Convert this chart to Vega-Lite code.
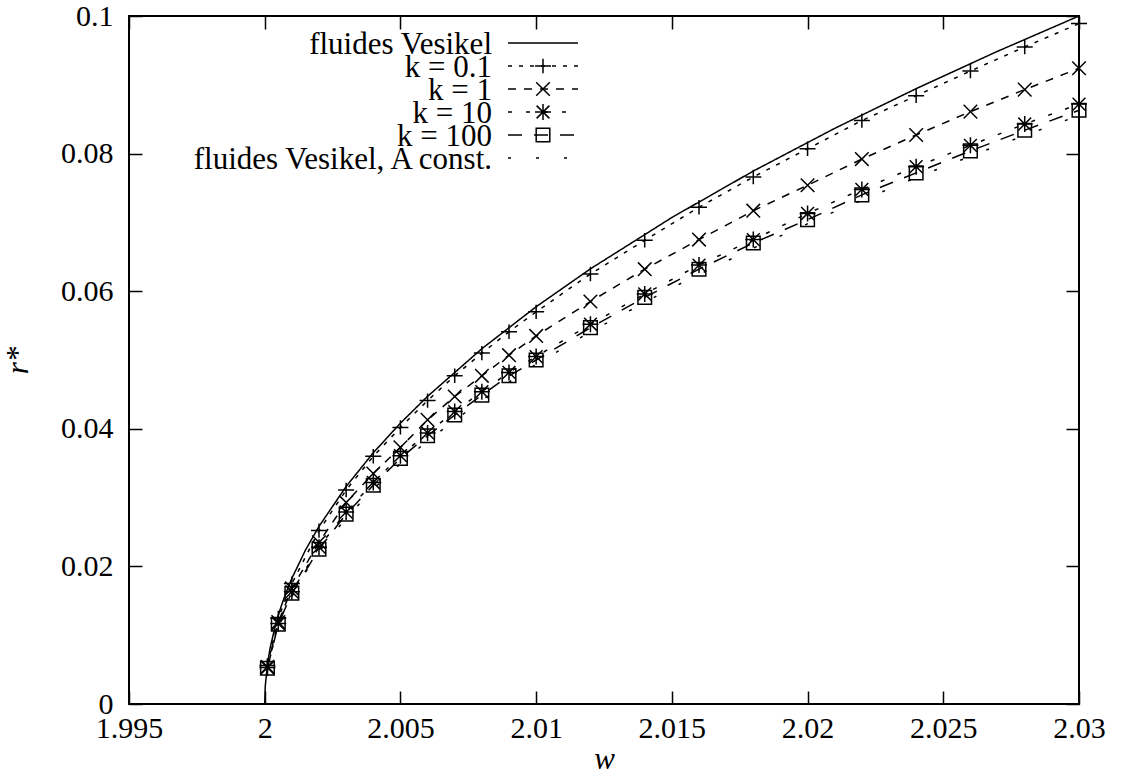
{
  "$schema": "https://vega.github.io/schema/vega-lite/v6.json",
  "width": 950,
  "height": 688,
  "autosize": {"type": "none"},
  "padding": {"left": 129, "top": 16, "right": 43, "bottom": 76},
  "background": "white",
  "config": {
    "view": {"stroke": "black", "strokeWidth": 2},
    "font": "Liberation Serif",
    "axis": {
      "grid": false,
      "domain": false,
      "ticks": true,
      "tickColor": "black",
      "tickWidth": 1.5,
      "tickSize": 13,
      "offset": -13,
      "labelFont": "Liberation Serif",
      "labelFontSize": 30,
      "labelColor": "black",
      "labelFlush": false,
      "labelOverlap": false,
      "labelBound": false,
      "titleFont": "Liberation Serif",
      "titleFontSize": 31,
      "titleFontStyle": "italic",
      "titleFontWeight": "normal",
      "titleColor": "black"
    },
    "legend": {
      "orient": "none",
      "title": null,
      "padding": 0,
      "rowPadding": 1,
      "labelFontSize": 10,
      "labelLimit": 0,
      "symbolSize": 256,
      "symbolOffset": 26,
      "symbolStrokeColor": "black",
      "symbolStrokeWidth": 1.5
    }
  },
  "data": {
    "values": [
      {"s": "fluides Vesikel", "w": 2.0, "r": 0},
      {"s": "fluides Vesikel", "w": 2.00002, "r": 0.00258},
      {"s": "fluides Vesikel", "w": 2.0001, "r": 0.00577},
      {"s": "fluides Vesikel", "w": 2.0002, "r": 0.00816},
      {"s": "fluides Vesikel", "w": 2.0004, "r": 0.01155},
      {"s": "fluides Vesikel", "w": 2.0006, "r": 0.01414},
      {"s": "fluides Vesikel", "w": 2.0008, "r": 0.01633},
      {"s": "fluides Vesikel", "w": 2.001, "r": 0.01826},
      {"s": "fluides Vesikel", "w": 2.0015, "r": 0.02236},
      {"s": "fluides Vesikel", "w": 2.002, "r": 0.02582},
      {"s": "fluides Vesikel", "w": 2.003, "r": 0.03162},
      {"s": "fluides Vesikel", "w": 2.004, "r": 0.03651},
      {"s": "fluides Vesikel", "w": 2.005, "r": 0.04082},
      {"s": "fluides Vesikel", "w": 2.006, "r": 0.04472},
      {"s": "fluides Vesikel", "w": 2.008, "r": 0.05164},
      {"s": "fluides Vesikel", "w": 2.01, "r": 0.05774},
      {"s": "fluides Vesikel", "w": 2.012, "r": 0.06325},
      {"s": "fluides Vesikel", "w": 2.015, "r": 0.07071},
      {"s": "fluides Vesikel", "w": 2.018, "r": 0.07746},
      {"s": "fluides Vesikel", "w": 2.021, "r": 0.08367},
      {"s": "fluides Vesikel", "w": 2.024, "r": 0.08944},
      {"s": "fluides Vesikel", "w": 2.027, "r": 0.09487},
      {"s": "fluides Vesikel", "w": 2.03, "r": 0.1},

      {"s": "k = 0.1", "w": 2.0001, "r": 0.0056},
      {"s": "k = 0.1", "w": 2.0005, "r": 0.0125},
      {"s": "k = 0.1", "w": 2.001, "r": 0.0175},
      {"s": "k = 0.1", "w": 2.002, "r": 0.0252},
      {"s": "k = 0.1", "w": 2.003, "r": 0.0311},
      {"s": "k = 0.1", "w": 2.004, "r": 0.036},
      {"s": "k = 0.1", "w": 2.005, "r": 0.0402},
      {"s": "k = 0.1", "w": 2.006, "r": 0.0441},
      {"s": "k = 0.1", "w": 2.007, "r": 0.0477},
      {"s": "k = 0.1", "w": 2.008, "r": 0.051},
      {"s": "k = 0.1", "w": 2.009, "r": 0.0541},
      {"s": "k = 0.1", "w": 2.01, "r": 0.057},
      {"s": "k = 0.1", "w": 2.012, "r": 0.0625},
      {"s": "k = 0.1", "w": 2.014, "r": 0.0674},
      {"s": "k = 0.1", "w": 2.016, "r": 0.0722},
      {"s": "k = 0.1", "w": 2.018, "r": 0.0766},
      {"s": "k = 0.1", "w": 2.02, "r": 0.0807},
      {"s": "k = 0.1", "w": 2.022, "r": 0.0848},
      {"s": "k = 0.1", "w": 2.024, "r": 0.0884},
      {"s": "k = 0.1", "w": 2.026, "r": 0.092},
      {"s": "k = 0.1", "w": 2.028, "r": 0.0955},
      {"s": "k = 0.1", "w": 2.03, "r": 0.0989},

      {"s": "k = 1", "w": 2.0001, "r": 0.0054},
      {"s": "k = 1", "w": 2.0005, "r": 0.0119},
      {"s": "k = 1", "w": 2.001, "r": 0.0168},
      {"s": "k = 1", "w": 2.002, "r": 0.0235},
      {"s": "k = 1", "w": 2.003, "r": 0.0293},
      {"s": "k = 1", "w": 2.004, "r": 0.0335},
      {"s": "k = 1", "w": 2.005, "r": 0.0373},
      {"s": "k = 1", "w": 2.006, "r": 0.0413},
      {"s": "k = 1", "w": 2.007, "r": 0.0447},
      {"s": "k = 1", "w": 2.008, "r": 0.0477},
      {"s": "k = 1", "w": 2.009, "r": 0.0507},
      {"s": "k = 1", "w": 2.01, "r": 0.0535},
      {"s": "k = 1", "w": 2.012, "r": 0.0585},
      {"s": "k = 1", "w": 2.014, "r": 0.0632},
      {"s": "k = 1", "w": 2.016, "r": 0.0675},
      {"s": "k = 1", "w": 2.018, "r": 0.0717},
      {"s": "k = 1", "w": 2.02, "r": 0.0754},
      {"s": "k = 1", "w": 2.022, "r": 0.0792},
      {"s": "k = 1", "w": 2.024, "r": 0.0827},
      {"s": "k = 1", "w": 2.026, "r": 0.0861},
      {"s": "k = 1", "w": 2.028, "r": 0.0893},
      {"s": "k = 1", "w": 2.03, "r": 0.0924},

      {"s": "k = 10", "w": 2.0001, "r": 0.0053},
      {"s": "k = 10", "w": 2.0005, "r": 0.0117},
      {"s": "k = 10", "w": 2.001, "r": 0.0163},
      {"s": "k = 10", "w": 2.002, "r": 0.0228},
      {"s": "k = 10", "w": 2.003, "r": 0.0279},
      {"s": "k = 10", "w": 2.004, "r": 0.0322},
      {"s": "k = 10", "w": 2.005, "r": 0.0361},
      {"s": "k = 10", "w": 2.006, "r": 0.0394},
      {"s": "k = 10", "w": 2.007, "r": 0.0425},
      {"s": "k = 10", "w": 2.008, "r": 0.0454},
      {"s": "k = 10", "w": 2.009, "r": 0.0482},
      {"s": "k = 10", "w": 2.01, "r": 0.0505},
      {"s": "k = 10", "w": 2.012, "r": 0.0552},
      {"s": "k = 10", "w": 2.014, "r": 0.0596},
      {"s": "k = 10", "w": 2.016, "r": 0.0638},
      {"s": "k = 10", "w": 2.018, "r": 0.0675},
      {"s": "k = 10", "w": 2.02, "r": 0.0713},
      {"s": "k = 10", "w": 2.022, "r": 0.0748},
      {"s": "k = 10", "w": 2.024, "r": 0.0781},
      {"s": "k = 10", "w": 2.026, "r": 0.0812},
      {"s": "k = 10", "w": 2.028, "r": 0.0843},
      {"s": "k = 10", "w": 2.03, "r": 0.0872},

      {"s": "k = 100", "w": 2.0001, "r": 0.0052},
      {"s": "k = 100", "w": 2.0005, "r": 0.0116},
      {"s": "k = 100", "w": 2.001, "r": 0.0161},
      {"s": "k = 100", "w": 2.002, "r": 0.0225},
      {"s": "k = 100", "w": 2.003, "r": 0.0276},
      {"s": "k = 100", "w": 2.004, "r": 0.0318},
      {"s": "k = 100", "w": 2.005, "r": 0.0357},
      {"s": "k = 100", "w": 2.006, "r": 0.039},
      {"s": "k = 100", "w": 2.007, "r": 0.042},
      {"s": "k = 100", "w": 2.008, "r": 0.0449},
      {"s": "k = 100", "w": 2.009, "r": 0.0477},
      {"s": "k = 100", "w": 2.01, "r": 0.05},
      {"s": "k = 100", "w": 2.012, "r": 0.0547},
      {"s": "k = 100", "w": 2.014, "r": 0.0591},
      {"s": "k = 100", "w": 2.016, "r": 0.0632},
      {"s": "k = 100", "w": 2.018, "r": 0.067},
      {"s": "k = 100", "w": 2.02, "r": 0.0704},
      {"s": "k = 100", "w": 2.022, "r": 0.074},
      {"s": "k = 100", "w": 2.024, "r": 0.0772},
      {"s": "k = 100", "w": 2.026, "r": 0.0804},
      {"s": "k = 100", "w": 2.028, "r": 0.0834},
      {"s": "k = 100", "w": 2.03, "r": 0.0863},

      {"s": "fluides Vesikel, A const.", "w": 2.0, "r": 0},
      {"s": "fluides Vesikel, A const.", "w": 2.00002, "r": 0.00221},
      {"s": "fluides Vesikel, A const.", "w": 2.0001, "r": 0.00494},
      {"s": "fluides Vesikel, A const.", "w": 2.0002, "r": 0.00698},
      {"s": "fluides Vesikel, A const.", "w": 2.0004, "r": 0.00988},
      {"s": "fluides Vesikel, A const.", "w": 2.0006, "r": 0.0121},
      {"s": "fluides Vesikel, A const.", "w": 2.0008, "r": 0.01397},
      {"s": "fluides Vesikel, A const.", "w": 2.001, "r": 0.01562},
      {"s": "fluides Vesikel, A const.", "w": 2.0015, "r": 0.01913},
      {"s": "fluides Vesikel, A const.", "w": 2.002, "r": 0.02209},
      {"s": "fluides Vesikel, A const.", "w": 2.003, "r": 0.02705},
      {"s": "fluides Vesikel, A const.", "w": 2.004, "r": 0.03124},
      {"s": "fluides Vesikel, A const.", "w": 2.005, "r": 0.03492},
      {"s": "fluides Vesikel, A const.", "w": 2.006, "r": 0.03826},
      {"s": "fluides Vesikel, A const.", "w": 2.008, "r": 0.04418},
      {"s": "fluides Vesikel, A const.", "w": 2.01, "r": 0.04939},
      {"s": "fluides Vesikel, A const.", "w": 2.012, "r": 0.0541},
      {"s": "fluides Vesikel, A const.", "w": 2.015, "r": 0.06049},
      {"s": "fluides Vesikel, A const.", "w": 2.018, "r": 0.06626},
      {"s": "fluides Vesikel, A const.", "w": 2.021, "r": 0.07157},
      {"s": "fluides Vesikel, A const.", "w": 2.024, "r": 0.07651},
      {"s": "fluides Vesikel, A const.", "w": 2.027, "r": 0.08116},
      {"s": "fluides Vesikel, A const.", "w": 2.03, "r": 0.08555}
    ]
  },
  "layer": [
    {
      "mark": {"type": "line", "stroke": "black", "strokeWidth": 1.5},
      "encoding": {
        "x": {
          "field": "w", "type": "quantitative",
          "scale": {"domain": [1.995, 2.03], "nice": false, "zero": false},
          "axis": {"orient": "bottom", "title": "w", "values": [1.995, 2.0, 2.005, 2.01, 2.015, 2.02, 2.025, 2.03], "format": "~g", "labelPadding": 9, "titlePadding": 1}
        },
        "y": {
          "field": "r", "type": "quantitative",
          "scale": {"domain": [0, 0.1], "nice": false, "zero": false},
          "axis": {"orient": "left", "title": "r*", "values": [0, 0.02, 0.04, 0.06, 0.08, 0.1], "format": "~g", "labelPadding": 16, "titlePadding": 26}
        },
        "strokeDash": {
          "field": "s", "type": "nominal",
          "scale": {
            "domain": ["fluides Vesikel", "k = 0.1", "k = 1", "k = 10", "k = 100", "fluides Vesikel, A const."],
            "range": [[1, 0], [4, 7], [8, 8], [4, 14], [14, 12], [3, 25]]
          },
          "legend": {
            "legendX": 379, "legendY": 18,
            "labelExpr": "''",
            "symbolType": "M0,-1M0,1M-4.375,0H4.375"
          }
        },
        "opacity": {
          "field": "s", "type": "ordinal",
          "scale": {
            "domain": ["fluides Vesikel, A const.", "k = 100", "k = 10", "k = 1", "k = 0.1", "fluides Vesikel"],
            "range": [1, 1]
          },
          "legend": {
            "legendX": 61, "legendY": 14,
            "labelExpr": "''",
            "symbolSize": 0,
            "symbolStrokeWidth": 0,
            "symbolStrokeColor": "transparent",
            "symbolFillColor": "transparent",
            "symbolOpacity": 0,
            "title": ["fluides Vesikel", "k = 0.1", "k = 1", "k = 10", "k = 100", "fluides Vesikel, A const."],
            "titleOrient": "left",
            "titleAlign": "right",
            "titleAnchor": "start",
            "titleBaseline": "top",
            "titleLineHeight": 23,
            "titleFont": "Liberation Serif",
            "titleFontSize": 31,
            "titleFontWeight": "normal",
            "titleColor": "black",
            "titleLimit": 2000,
            "titlePadding": 15
          }
        }
      }
    },
    {
      "transform": [{"filter": {"field": "s", "oneOf": ["k = 0.1", "k = 1", "k = 10", "k = 100"]}}],
      "mark": {"type": "point", "filled": false, "stroke": "black", "strokeWidth": 1.5, "size": 256, "opacity": 1},
      "encoding": {
        "x": {
          "field": "w", "type": "quantitative",
          "scale": {"domain": [1.995, 2.03], "nice": false, "zero": false},
          "axis": {"orient": "top", "title": null, "labels": false, "values": [1.995, 2.0, 2.005, 2.01, 2.015, 2.02, 2.025, 2.03]}
        },
        "y": {
          "field": "r", "type": "quantitative",
          "scale": {"domain": [0, 0.1], "nice": false, "zero": false},
          "axis": {"orient": "right", "title": null, "labels": false, "values": [0, 0.02, 0.04, 0.06, 0.08, 0.1]}
        },
        "shape": {
          "field": "s", "type": "nominal",
          "scale": {
            "domain": ["k = 0.1", "k = 1", "k = 10", "k = 100"],
            "range": [
              "M0,-1M0,1M-1,0H1M0,-0.9V0.9",
              "M0,-1M0,1M-0.85,-0.85L0.85,0.85M-0.85,0.85L0.85,-0.85",
              "M0,-1M0,1M-1,0H1M0,-1V1M-0.8,-0.8L0.8,0.8M-0.8,0.8L0.8,-0.8",
              "M0,-1M0,1M-0.85,-0.85H0.85V0.85H-0.85Z"
            ]
          },
          "legend": {
            "legendX": 379, "legendY": 41,
            "labelExpr": "''",
            "symbolFillColor": "transparent"
          }
        }
      }
    }
  ],
  "resolve": {"scale": {"x": "independent", "y": "independent"}}
}
